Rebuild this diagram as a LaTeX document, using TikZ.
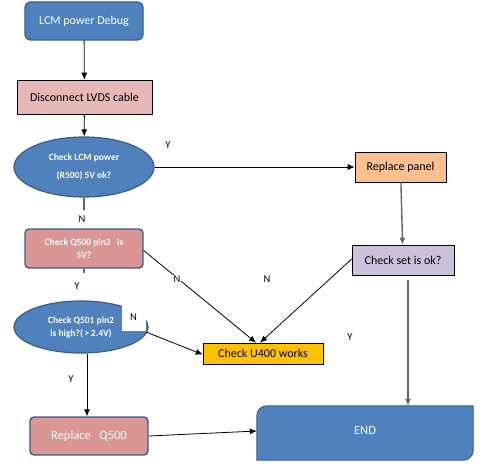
\documentclass[tikz,border=0pt]{standalone}
\usepackage{fontspec}
\setmainfont{Carlito}
\usetikzlibrary{shapes.geometric,arrows.meta,backgrounds}

\definecolor{boxblue}{HTML}{4F81BD}
\definecolor{edgeblue}{HTML}{385D8A}
\definecolor{lightpink}{HTML}{E6B9B8}
\definecolor{darkpink}{HTML}{D99694}
\definecolor{peach}{HTML}{FAC090}
\definecolor{lavender}{HTML}{CCC1DA}
\definecolor{amber}{HTML}{FFC000}

\tikzset{
  bluebox/.style={draw=edgeblue, line width=1.2pt, fill=boxblue, rounded corners=5pt,
    text=white, font=\fontsize{12}{14}\selectfont},
  flatbox/.style={draw=black, line width=0.6pt, font=\fontsize{12}{14}\selectfont},
  pinkbox/.style={draw=edgeblue, line width=1.4pt, fill=darkpink, rounded corners=4pt,
    text=white, align=center},
  decision/.style={ellipse, draw=edgeblue, line width=1.2pt, fill=boxblue, text=white,
    align=center, inner sep=0pt, font=\fontsize{9.5}{13}\selectfont\bfseries},
  yn/.style={font=\fontsize{10.5}{12}\selectfont, fill=white, inner sep=1pt},
  arr/.style={-{Latex[length=7pt,width=6pt]}, line width=0.8pt},
  grayline/.style={draw=black!60, line width=1.4pt}
}

\begin{document}
\begin{tikzpicture}[x=1pt,y=-1pt]
\useasboundingbox (0,0) rectangle (486,468);

% Boxes
\node[bluebox, minimum width=118pt, minimum height=38pt] (start) at (84,21) {LCM power Debug};
\node[flatbox, fill=lightpink, minimum width=135pt, minimum height=34pt] (disc) at (84.5,97) {Disconnect LVDS cable};
\node[decision, minimum width=140pt, minimum height=60pt, font=\fontsize{9.5}{18}\selectfont\bfseries] (lcm) at (84,167) {Check LCM power\\(R500) 5V ok?};
\node[pinkbox, minimum width=118pt, minimum height=39pt, font=\fontsize{9.5}{13}\selectfont\bfseries] (qpin) at (84,248.5) {Check Q500 pin2~~~is\\5V?};
\node[decision, minimum width=134pt, minimum height=52pt] (qhigh) at (81,327) {Check Q501 pin2\\is high?(\,>\,2.4V)};
\node[pinkbox, minimum width=118pt, minimum height=38pt, font=\fontsize{12.5}{14}\selectfont] (repq) at (89,436) {Replace~~~Q500};
\node[flatbox, fill=peach, minimum width=91pt, minimum height=30pt] (panel) at (400.5,167) {Replace panel};
\node[flatbox, fill=lavender, minimum width=102pt, minimum height=30pt] (chkset) at (403,260) {Check set is ok?};
\node[flatbox, fill=amber, minimum width=120pt, minimum height=21pt] (uchk) at (263,353.5) {Check U400 works};
\node[minimum width=216pt, minimum height=54pt, text=white, font=\fontsize{12.5}{14}\selectfont] (end) at (365,433) {\raisebox{6pt}{END}};

% END shape
\begin{pgfonlayer}{background}
\filldraw[fill=boxblue, draw=edgeblue, line width=1pt]
  ([yshift=-10pt]end.north west) arc[start angle=180, end angle=90, radius=10pt]
  -- (end.north east) -- ([yshift=10pt]end.south east)
  arc[start angle=0, end angle=-90, radius=10pt] -- (end.south west) -- cycle;
\end{pgfonlayer}

% Short stubs
\coordinate (lcmstub) at (84,210);
\coordinate (qpinstub) at (84,273);
\draw[grayline] (lcm.south) -- (lcmstub);
\draw[grayline] (qpin.south) -- (qpinstub);

% Arrows
\draw[arr] (start) -- (disc);
\draw[arr] (disc) -- (lcm);
\draw[arr] (lcm.east) -- (panel.west);
\draw[arr, draw=black!60, line width=1.4pt] (panel) -- (chkset);
\draw[arr, draw=black!60, line width=1.4pt] ([xshift=5pt,yshift=-5pt]chkset.south) -- ([xshift=5pt]chkset.south |- end.north);
\draw[arr] ([yshift=1pt]chkset.west) -- ([xshift=-3pt]uchk.north);
\draw[arr] ([yshift=-2pt]qpin.east) -- ([xshift=-7pt]uchk.north);
\draw[arr] (146,332) -- ([yshift=-1pt]uchk.west);
\draw[arr] ([xshift=6pt]qhigh.south) -- ([xshift=-2pt]repq.north);
\draw[arr] (repq.east) -- ([yshift=2pt]end.west);

% Labels
\node[yn] (y1) at (168,145) {Y};
\node[yn] (n1) at (82,219) {N};
\node[yn] (y2) at (77,286) {Y};
\node[yn] (n2) at (177,279) {N};
\node[yn] (n3) at (267,279) {N};
\node[yn, minimum width=24pt, minimum height=27pt, text depth=0pt] (n4) at (133.5,317) {N};
\node[yn] (y3) at (71,379) {Y};
\node[yn] (y4) at (350,337) {Y};

\end{tikzpicture}
\end{document}
